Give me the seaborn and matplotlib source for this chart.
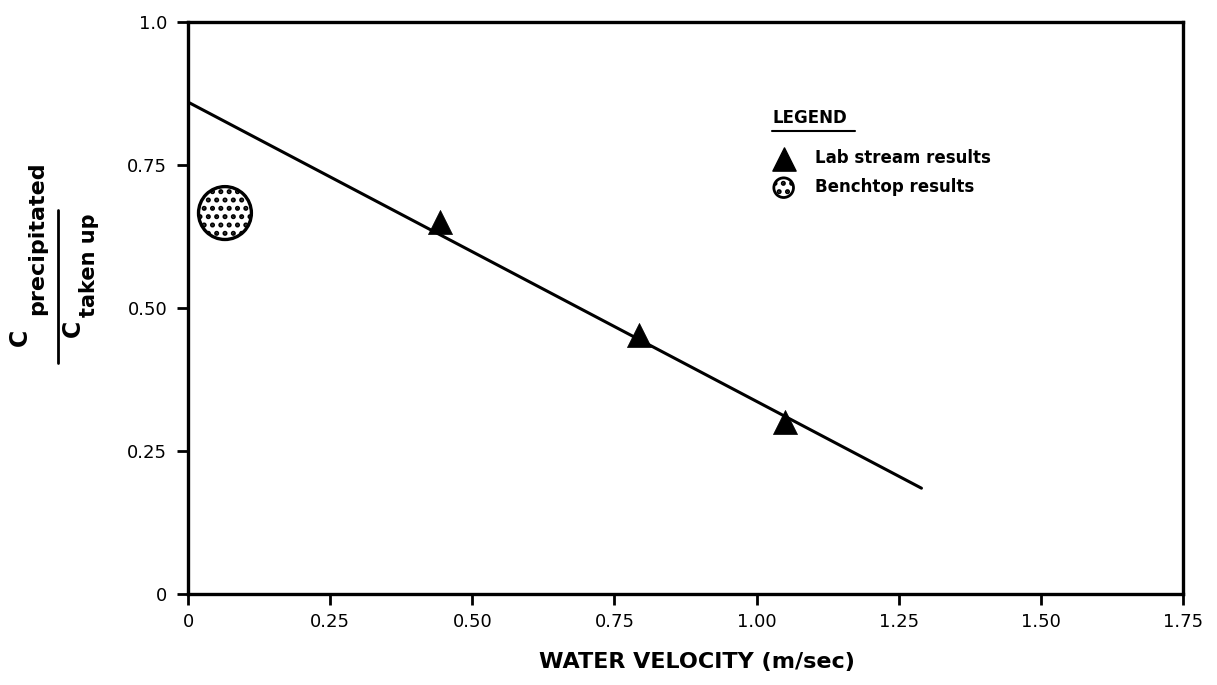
import matplotlib
matplotlib.use("Agg")
import matplotlib.pyplot as plt
import seaborn as sns
import pandas as pd
from matplotlib.lines import Line2D

# ---- data ----
lab_velocity = [0.443, 0.793, 1.05]
lab_ratio = [0.65, 0.453, 0.30]
bench_velocity = [0.065]
bench_ratio = [0.666]
fit_velocity = [0.0, 1.29]
fit_ratio = [0.86, 0.185]
x_ticks = [0, 0.25, 0.50, 0.75, 1.00, 1.25, 1.50, 1.75]
x_ticklabels = ["0", "0.25", "0.50", "0.75", "1.00", "1.25", "1.50", "1.75"]
y_ticks = [0, 0.25, 0.50, 0.75, 1.0]
y_ticklabels = ["0", "0.25", "0.50", "0.75", "1.0"]

sns.set_theme(style="white")
plt.rcParams["font.family"] = ["DejaVu Sans"]
plt.rcParams["text.color"] = "black"
plt.rcParams["hatch.linewidth"] = 2.4

W, H = 1217, 685
fig = plt.figure(figsize=(W / 100, H / 100), dpi=100)
fig.patch.set_facecolor("white")
ax = fig.add_axes([188 / W, 1 - 594 / H, (1183 - 188) / W, (594 - 22) / H])
ax.set_facecolor("white")

lab_df = pd.DataFrame({"v": lab_velocity, "r": lab_ratio})
bench_df = pd.DataFrame({"v": bench_velocity, "r": bench_ratio})
fit_df = pd.DataFrame({"v": fit_velocity, "r": fit_ratio})

sns.lineplot(data=fit_df, x="v", y="r", ax=ax, color="black", linewidth=2.2, zorder=3)
sns.scatterplot(data=lab_df, x="v", y="r", ax=ax, marker="^", s=300, color="black",
                edgecolor="black", linewidth=0.5, zorder=4)
ax.scatter(bench_df["v"], bench_df["r"], s=1450, marker="o", facecolor="white",
           edgecolor="black", linewidth=2.4, hatch="..", zorder=4)

ax.set_xlim(0, 1.75)
ax.set_ylim(0, 1.0)
ax.set_xticks(x_ticks)
ax.set_xticklabels(x_ticklabels)
ax.set_yticks(y_ticks)
ax.set_yticklabels(y_ticklabels)
ax.tick_params(axis="both", direction="out", length=8, width=2, color="black",
               labelsize=13, labelcolor="black", bottom=True, left=True)
ax.tick_params(axis="x", pad=6)
ax.tick_params(axis="y", pad=7)
for s in ax.spines.values():
    s.set_visible(True)
    s.set_color("black")
    s.set_linewidth(2.4)

ax.set_xlabel("WATER VELOCITY (m/sec)", fontsize=16, fontweight="bold", color="black")
ax.xaxis.set_label_coords((697 - 188) / 995, (594 - 652) / 572)
ax.set_ylabel("")

# legend
h_tri = ax.scatter([], [], marker="^", s=280, color="black")
h_circ = ax.scatter([], [], marker="o", s=200, facecolor="white", edgecolor="black",
                    linewidth=2, hatch="..")
leg = ax.legend([h_tri, h_circ], ["Lab stream results", "Benchtop results"],
                title="LEGEND", frameon=False, loc="upper left",
                bbox_to_anchor=((772 - 188) / 995, (594 - 109) / 572),
                prop={"weight": "bold", "size": 12},
                title_fontproperties={"weight": "bold", "size": 12},
                alignment="left", labelspacing=0.65, handletextpad=1.2,
                handlelength=1.4, borderpad=0.0, borderaxespad=0.0,
                labelcolor="black")
leg.get_title().set_color("black")
leg._legend_box.sep = 16

# y label as a stacked fraction
def ftext(x, y, s, size, **kw):
    fig.text(x / W, 1 - y / H, s, rotation=90, ha="center", va="center",
             fontsize=size, fontweight="bold", color="black", **kw)

ftext(20, 337, "C", 17)
ftext(37, 238, "precipitated", 16)
ftext(73, 328, "C", 17)
ftext(89, 265, "taken up", 15)
fig.add_artist(Line2D([58 / W, 58 / W], [1 - 210 / H, 1 - 363 / H],
                      transform=fig.transFigure, color="black", linewidth=2))

# underline LEGEND title
fig.canvas.draw()
tb = leg.get_title().get_window_extent()
fig.add_artist(Line2D([tb.x0 / W, tb.x1 / W + 8 / W], [(tb.y0 - 4) / H, (tb.y0 - 4) / H],
                      transform=fig.transFigure, color="black", linewidth=1.5))

fig.savefig("out.png", dpi=100, facecolor="white")
